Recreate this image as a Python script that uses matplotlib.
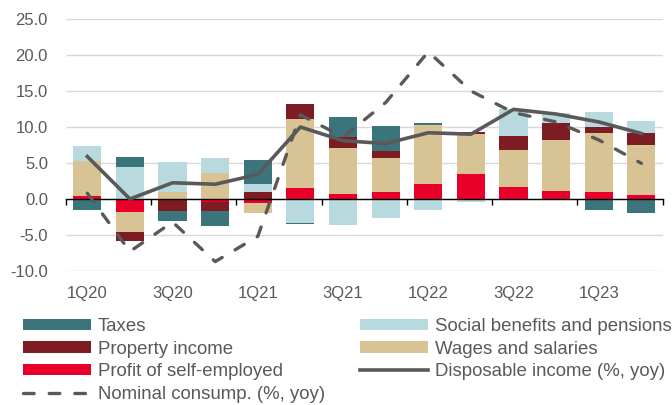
import matplotlib
matplotlib.use("Agg")
import matplotlib.pyplot as plt
import numpy as np

plt.rcParams['font.family'] = ['Liberation Sans', 'DejaVu Sans']

# quarters 1Q20 .. 2Q23
quarters = ["1Q20", "2Q20", "3Q20", "4Q20", "1Q21", "2Q21", "3Q21", "4Q21",
            "1Q22", "2Q22", "3Q22", "4Q22", "1Q23", "2Q23"]

# contributions (pp), stacked in this order
profit = [0.4, -1.85, 0.0, -0.4, -0.5, 1.55, 0.65, 0.95, 2.1, 3.45, 1.6, 1.1, 1.0, 0.5]
wages = [4.9, -2.8, 1.0, 3.55, -1.5, 9.55, 6.5, 4.8, 8.15, 5.6, 5.25, 7.1, 8.2, 7.05]
prop_income = [0.0, -1.15, -1.65, -1.25, 1.0, 2.15, 1.4, 0.9, 0.0, 0.25, 1.9, 2.3, 0.8, 1.6]
social = [2.0, 4.5, 4.1, 2.1, 1.05, -3.35, -3.55, -2.6, -1.5, -0.4, 3.75, 1.4, 2.05, 1.7]
taxes = [-1.5, 1.3, -1.35, -2.05, 3.3, -0.1, 2.85, 3.55, 0.35, 0.0, 0.0, -0.2, -1.6, -1.95]

disposable = [5.9, 0.0, 2.25, 2.05, 3.4, 10.0, 8.1, 7.7, 9.2, 9.0, 12.45, 11.8, 10.7, 9.1]
nominal = [0.8, -7.3, -3.2, -8.7, -5.2, 11.7, 8.6, 13.4, 20.45, 15.0, 12.0, 10.7, 8.2, 4.95]

yticks = [-10, -5, 0, 5, 10, 15, 20, 25]

c_tax = "#3B757B"
c_prop = "#7D1C22"
c_profit = "#E8002B"
c_social = "#B8DADE"
c_wages = "#D8C394"
c_line = "#595959"
c_text = "#595959"

fig = plt.figure(figsize=(6.72, 4.05), dpi=100)
ax = fig.add_axes([0.0982, 0.331, 0.888, 0.622])

x = np.arange(len(quarters))
pos_bottom = np.zeros(len(x))
neg_bottom = np.zeros(len(x))
series = [(profit, c_profit, "Profit of self-employed"),
          (wages, c_wages, "Wages and salaries"),
          (prop_income, c_prop, "Property income"),
          (social, c_social, "Social benefits and pensions"),
          (taxes, c_tax, "Taxes")]
handles = {}
for vals, col, lab in series:
    v = np.array(vals)
    bottom = np.where(v >= 0, pos_bottom, neg_bottom)
    h = ax.bar(x, v, 0.66, bottom=bottom, color=col, label=lab, zorder=2)
    handles[lab] = h
    pos_bottom += np.where(v >= 0, v, 0)
    neg_bottom += np.where(v < 0, v, 0)

ln_disp, = ax.plot(x, disposable, color=c_line, lw=2.6, zorder=4,
                   label="Disposable income (%, yoy)")
ln_nom, = ax.plot(x, nominal, color=c_line, lw=2.4, zorder=4,
                  dashes=(3.2, 4.5), dash_capstyle='round',
                  label="Nominal consump. (%, yoy)")

ax.set_xlim(-0.5, len(x) - 0.5)
ax.set_ylim(-10, 25)
ax.set_yticks(yticks)
ax.set_yticklabels([f"{v:.1f}" for v in yticks])
ax.grid(axis='y', color="#D9D9D9", lw=1, zorder=0)
for s in ax.spines.values():
    s.set_visible(False)
ax.tick_params(axis='y', length=0, pad=13, labelsize=12, labelcolor=c_text)

ax.set_xticks(x[::2])
ax.set_xticklabels(quarters[::2])
ax.tick_params(axis='x', length=0, pad=11, labelsize=12, labelcolor=c_text)

# zero line with category ticks
sec = ax.secondary_xaxis(10 / 35)
sec.set_xticks(np.arange(-0.5, len(x), 2))
sec.set_xticklabels([])
sec.tick_params(axis='x', length=4, width=1, color="black", direction='out')
sec.spines['bottom'].set_color("black")
sec.spines['bottom'].set_linewidth(1)
sec.set_zorder(3)

hl = [handles["Taxes"], handles["Property income"], handles["Profit of self-employed"], ln_nom,
      handles["Social benefits and pensions"], handles["Wages and salaries"], ln_disp]
labs = [h.get_label() for h in hl]
fig.legend(hl, labs, loc='upper left', bbox_to_anchor=(23 / 672, 1 - 318 / 405),
           ncol=2, frameon=False, fontsize=13.4, labelcolor=c_text,
           handlelength=3.65, handleheight=0.55, handletextpad=0.38,
           columnspacing=1.9, labelspacing=0.3, borderpad=0, borderaxespad=0)

fig.savefig("out.png", dpi=100)
